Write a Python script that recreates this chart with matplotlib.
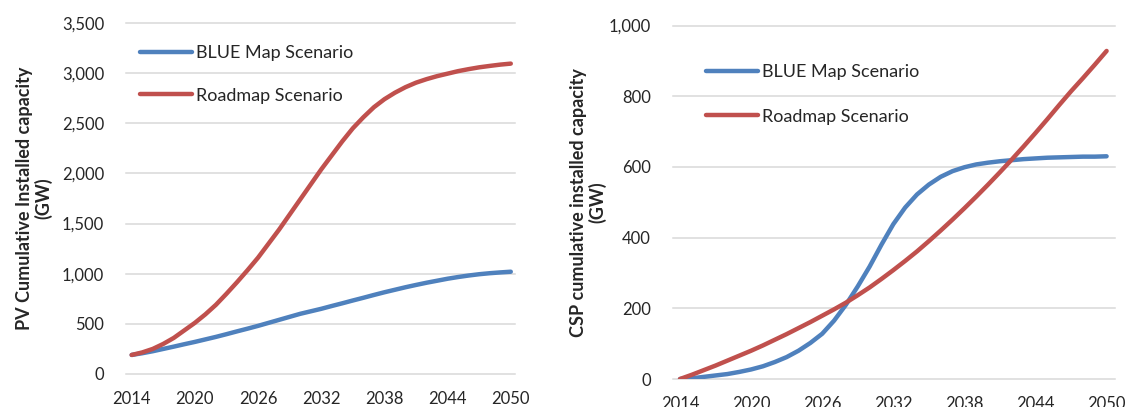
import matplotlib
matplotlib.use("Agg")
import matplotlib.pyplot as plt
from matplotlib.ticker import FuncFormatter

years = list(range(2014, 2051))

# PV cumulative installed capacity (GW)
pv_blue = [190, 207, 227, 250, 273, 297, 320, 345, 370, 397, 425, 452, 480, 510,
           540, 570, 600, 625, 650, 678, 705, 733, 760, 788, 815, 840, 865, 888,
           910, 930, 950, 967, 982, 995, 1005, 1013, 1020]
pv_roadmap = [190, 215, 250, 300, 360, 435, 510, 595, 690, 800, 915, 1035, 1160,
              1300, 1440, 1590, 1740, 1890, 2040, 2180, 2320, 2450, 2560, 2660,
              2740, 2805, 2860, 2905, 2940, 2970, 2995, 3020, 3040, 3058, 3072,
              3085, 3095]

# CSP cumulative installed capacity (GW)
csp_blue = [0, 2, 6, 10, 14, 20, 27, 36, 48, 62, 80, 102, 128, 165, 210, 262, 318,
            380, 438, 485, 522, 550, 572, 588, 599, 607, 612, 616, 619, 622, 624,
            626, 627, 628, 629, 629, 630]
csp_roadmap = [0, 12, 25, 38, 52, 66, 80, 95, 111, 127, 144, 161, 179, 197, 216,
               237, 259, 283, 308, 334, 361, 390, 420, 451, 483, 516, 550, 585,
               621, 658, 696, 735, 775, 814, 851, 889, 928]

series_names = ["BLUE Map Scenario", "Roadmap Scenario"]
x_ticks = [2014, 2020, 2026, 2032, 2038, 2044, 2050]
pv_yticks = [0, 500, 1000, 1500, 2000, 2500, 3000, 3500]
csp_yticks = [0, 200, 400, 600, 800, 1000]

BLUE = "#4F81BD"
RED = "#C0504D"
GRID = "#D9D9D9"
TEXT = "#262626"

plt.rcParams["font.family"] = ["Lato", "DejaVu Sans"]

fig = plt.figure(figsize=(11.28, 4.07), dpi=100)
fig.patch.set_facecolor("white")

ax1 = fig.add_axes([126.4 / 1128, 33 / 407, 388.6 / 1128, 351 / 407])
ax2 = fig.add_axes([672.9 / 1128, 28 / 407, 442 / 1128, 353.5 / 407])

thousands = FuncFormatter(lambda v, p: f"{int(v):,}")


def style(ax, yticks, xlim, ylabel, label_x):
    ax.set_xlim(*xlim)
    ax.set_ylim(yticks[0], yticks[-1])
    ax.set_xticks(x_ticks)
    ax.set_yticks(yticks)
    ax.yaxis.set_major_formatter(thousands)
    ax.grid(axis="y", color=GRID, linewidth=1.1)
    for gl in ax.get_ygridlines():
        gl.set_clip_on(False)
    ax.set_axisbelow(True)
    for s in ax.spines.values():
        s.set_visible(False)
    ax.tick_params(axis="both", length=0, labelsize=12, colors=TEXT)
    ax.tick_params(axis="y", pad=16)
    ax.tick_params(axis="x", pad=12)
    ax.set_ylabel(ylabel, fontsize=13, fontweight="bold", color=TEXT,
                  linespacing=1.1, ha="center")
    ax.yaxis.set_label_coords(label_x, 0.5)


style(ax1, pv_yticks, (2013.5, 2050.4),
      "PV Cumulative Installed capacity\n(GW)", -0.19)
style(ax2, csp_yticks, (2013.4, 2050.7),
      "CSP cumulative installed capacity\n(GW)", -0.15)

for ax, blue, red in [(ax1, pv_blue, pv_roadmap), (ax2, csp_blue, csp_roadmap)]:
    ax.plot(years, blue, color=BLUE, linewidth=3.2, solid_capstyle="round",
            solid_joinstyle="round", label=series_names[0], zorder=3)
    ax.plot(years, red, color=RED, linewidth=3.2, solid_capstyle="round",
            solid_joinstyle="round", label=series_names[1], zorder=4)

leg_kw = dict(loc="upper left", frameon=False, borderpad=0, borderaxespad=0,
              handlelength=2.9, handletextpad=0.2, fontsize=13)
leg1 = ax1.legend(bbox_to_anchor=(0.035, 0.937), labelspacing=1.47, **leg_kw)
leg2 = ax2.legend(bbox_to_anchor=(0.0747, 0.891), labelspacing=1.58, **leg_kw)
for leg in (leg1, leg2):
    for t in leg.get_texts():
        t.set_color(TEXT)

fig.savefig("out.png", dpi=100, facecolor="white")
